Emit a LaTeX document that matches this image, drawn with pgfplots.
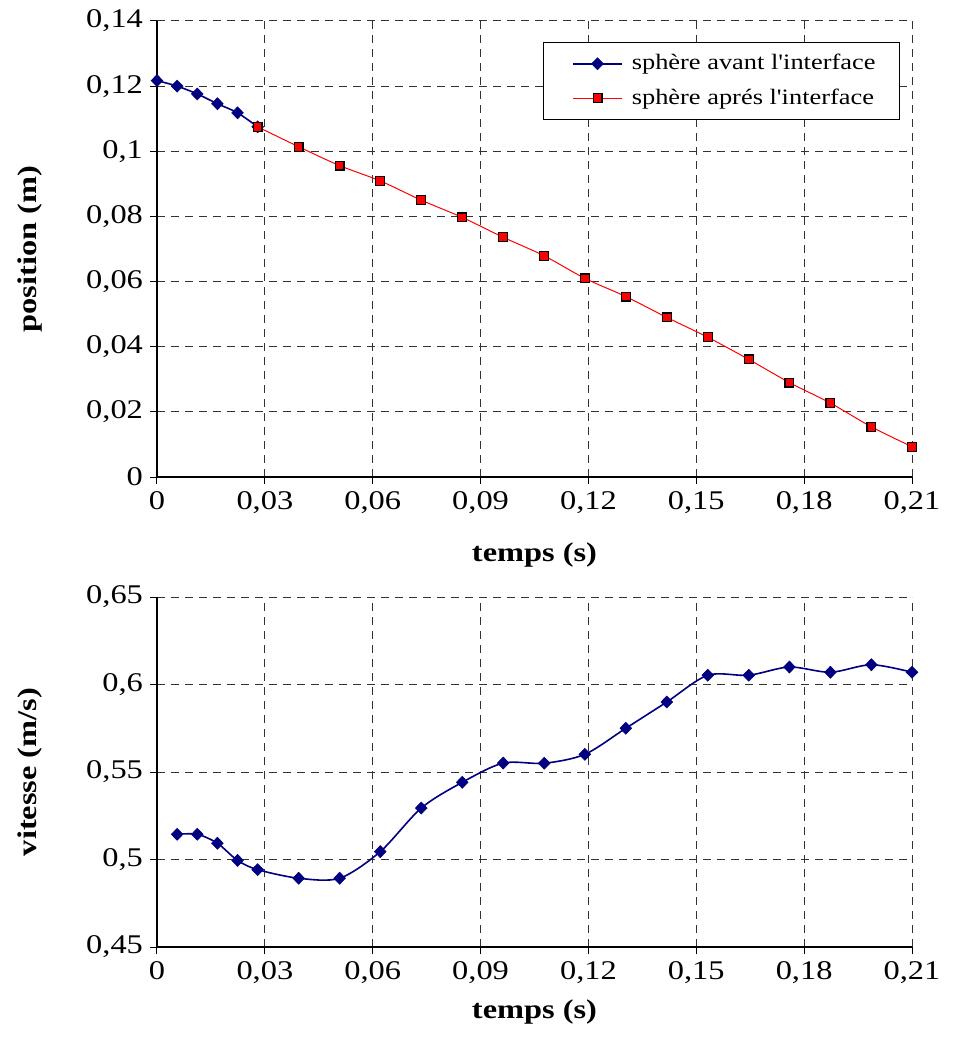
\documentclass[border=0pt]{standalone}
\usepackage{fontspec}
\setmainfont{Liberation Serif}[FakeStretch=1.2, Ligatures=TeXOff]
\usepackage{pgfplots}
\pgfplotsset{compat=1.18}
\definecolor{navyc}{RGB}{0,0,128}
\pgfplotsset{
 common/.style={
  scale only axis, width=377.5pt,
  xmin=0, xmax=0.21,
  xtick={0,0.03,0.06,0.09,0.12,0.15,0.18,0.21},
  axis x line*=bottom, axis y line*=left,
  axis line style={-, black, line width=0.6pt},
  tick align=outside, major tick length=3.5pt,
  tick style={black, line width=0.5pt},
  grid=major,
  major grid style={black!80, dash pattern=on 4pt off 3pt, line width=0.5pt},
  scaled ticks=false,
  /pgf/number format/.cd, use comma, fixed, precision=2, 1000 sep={}, assume math mode=true,
  /pgfplots/.cd,
  tick label style={font=\fontsize{13.5}{15}\selectfont},
  label style={font=\fontsize{13.5}{15}\selectfont\bfseries},
  xlabel={temps (s)},
 },
 bluestyle/.style={navyc, line width=0.8pt, smooth, mark=diamond*, mark size=3pt,
  mark options={fill=navyc, draw=navyc, line width=0.3pt, xscale=1.3}},
}
\begin{document}
\begin{tikzpicture}
\useasboundingbox (-78.5pt,-281pt) rectangle (399pt,238.5pt);
\begin{axis}[common, height=228pt, at={(0,0)}, anchor=south west,
  ymin=0, ymax=0.14,
  ytick={0,0.02,0.04,0.06,0.08,0.1,0.12,0.14},
  xlabel style={at={(axis description cs:0.5,-0.171)}, anchor=center},
  ylabel={position (m)},
  ylabel style={at={(axis description cs:-0.168,0.5)}, anchor=center},
  legend style={at={(rel axis cs:1,1)}, anchor=north east, xshift=-6pt, yshift=-10.5pt,
    draw=black, line width=0.5pt, font=\fontsize{11}{12.5}\selectfont,
    inner xsep=10pt, inner ysep=4pt, row sep=4pt},
  legend cell align=left,
  legend image code/.code={%
    \path (-4.5pt,0pt) (0.86cm+2.5pt,0pt);
    \draw[mark repeat=2, mark phase=2] plot coordinates {(0cm,0cm) (0.43cm,0cm) (0.86cm,0cm)};},
]
\addplot[bluestyle] coordinates {
(0,0.1217) (0.0056,0.1200) (0.0112,0.1176) (0.0168,0.1146) (0.0224,0.1118) (0.0280,0.1075)
};
\addlegendentry{sphère avant l'interface}
\addplot[red, line width=0.5pt, smooth, mark=square*, mark size=2.2pt,
  mark options={fill=red, draw=black, line width=0.6pt}] coordinates {
(0.0280,0.1075) (0.0394,0.1014) (0.0508,0.0956) (0.0621,0.0909) (0.0735,0.0850)
(0.0849,0.0797) (0.0963,0.0736) (0.1077,0.0679) (0.1190,0.0610) (0.1304,0.0554)
(0.1418,0.0490) (0.1532,0.0429) (0.1646,0.0361) (0.1759,0.0290) (0.1873,0.0227)
(0.1987,0.0154) (0.2100,0.0093)
};
\addlegendentry{sphère aprés l'interface}
\end{axis}
\begin{axis}[common, height=175pt, at={(0,-60pt)}, anchor=north west,
  ymin=0.45, ymax=0.65,
  ytick={0.45,0.5,0.55,0.6,0.65},
  xlabel style={at={(axis description cs:0.5,-0.186)}, anchor=center},
  ylabel={vitesse (m/s)},
  ylabel style={at={(axis description cs:-0.168,0.5)}, anchor=center},
]
\addplot[bluestyle] coordinates {
(0.0056,0.5144) (0.0112,0.5144) (0.0168,0.5093) (0.0224,0.4995) (0.0280,0.4942)
(0.0394,0.4893) (0.0508,0.4893) (0.0621,0.5045) (0.0735,0.5294) (0.0849,0.5441)
(0.0963,0.5551) (0.1077,0.5550) (0.1190,0.5601) (0.1304,0.5750) (0.1418,0.5900)
(0.1532,0.6053) (0.1646,0.6053) (0.1759,0.6100) (0.1873,0.6070) (0.1987,0.6113)
(0.2100,0.6070)
};
\end{axis}
\end{tikzpicture}
\end{document}
